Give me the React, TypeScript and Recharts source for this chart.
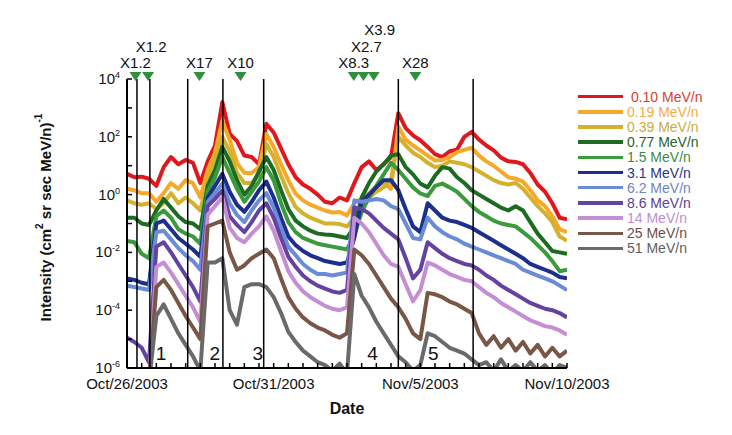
import React from "react";
import {
  LineChart,
  Line,
  XAxis,
  YAxis,
  ReferenceLine,
  ReferenceDot,
  Legend,
  Label,
} from "recharts";

const FONT = '"Liberation Sans", Arial, Helvetica, sans-serif';

// sample times, days after 2003-10-26 00:00 UT (6-hour steps)
const days = [
  0, 0.25, 0.5, 0.75, 1, 1.25, 1.5, 1.75, 2, 2.25, 2.5, 2.75, 3, 3.25, 3.5, 3.75,
  4, 4.25, 4.5, 4.75, 5, 5.25, 5.5, 5.75, 6, 6.25, 6.5, 6.75, 7, 7.25, 7.5, 7.75,
  8, 8.25, 8.5, 8.75, 9, 9.25, 9.5, 9.75, 10, 10.25, 10.5, 10.75, 11, 11.25, 11.5,
  11.75, 12, 12.25, 12.5, 12.75, 13, 13.25, 13.5, 13.75, 14, 14.25, 14.5, 14.75, 15,
];

// log10 intensity per energy channel
const mev010 = [
  0.72, 0.6, 0.62, 0.55, 0.3, 0.95, 1.3, 1.05, 1.2, 1.1, 0.4, 1.15, 1.7, 3.2, 2.1, 1.85,
  1.35, 1.3, 1.05, 2.45, 2.15, 1.6, 1.05, 0.6, 0.35, 0.2, 0.0, -0.25, -0.3, -0.1, -0.2, 0.4,
  0.95, 1.15, 0.85, 1.05, 1.3, 2.82, 2.3, 2.05, 1.88, 1.65, 1.4, 1.3, 1.5, 1.55, 2.0,
  2.17, 1.9, 1.7, 1.53, 1.28, 1.15, 1.13, 1.05, 0.75, 0.35, 0.1, -0.3, -0.8, -0.85,
];
const mev019 = [
  0.2, 0.15, 0.05, 0.05, -0.25, 0.05, 0.4, 0.2, 0.5, 0.4, -0.1, 0.85, 1.45, 2.55, 1.9, 1.1,
  0.75, 0.75, 0.95, 2.1, 1.65, 1.05, 0.5, 0.03, -0.2, -0.35, -0.45, -0.55, -0.62, -0.6, -0.72, -0.3,
  -0.15, 0.05, 0.3, 0.4, 0.2, 2.35, 1.9, 1.7, 1.53, 1.35, 1.18, 1.2, 1.3, 1.47, 1.55,
  1.62, 1.35, 1.15, 1.0, 0.8, 0.6, 0.55, 0.45, 0.15, -0.2, -0.4, -0.75, -1.2, -1.3,
];
const mev039 = [
  -0.2, -0.3, -0.35, -0.3, -0.5, -0.3, 0.05, -0.3, -0.1, -0.3, -0.55, 0.55, 1.25, 2.0, 1.5, 0.75,
  0.4, 0.4, 0.7, 1.75, 1.3, 0.65, 0.05, -0.43, -0.65, -0.8, -0.9, -1.0, -1.0, -1.02, -1.1, -0.8,
  -0.4, -0.1, 0.1, 0.25, 0.5, 2.0, 1.7, 1.45, 1.3, 1.1, 0.95, 1.0, 1.15, 1.1, 1.05,
  0.95, 0.8, 0.65, 0.5, 0.4, 0.35, 0.4, 0.2, -0.1, -0.4, -0.65, -0.95, -1.45, -1.6,
];
const mev077 = [
  -0.8, -0.8, -1.0, -1.05, -0.55, -0.15, -0.45, -0.75, -0.95, -1.0, -1.2, 0.3, 0.85, 1.65, 1.15, 0.5,
  0.0, 0.3, 0.8, 1.3, 0.85, 0.15, -0.5, -0.9, -1.1, -1.25, -1.35, -1.38, -1.4, -1.45, -1.5, -1.1,
  -0.1, 0.4, 0.8, 1.05, 1.35, 1.4, 0.95, 0.7, 0.38, 0.25, 0.65, 0.95, 0.9, 0.6, 0.4,
  0.15, 0.0, -0.15, -0.3, -0.45, -0.55, -0.4, -0.55, -0.95, -1.35, -1.65, -1.95, -2.0, -2.05,
];
const mev15 = [
  -1.6, -1.65, -2.05, -2.2, -0.75, -0.55, -0.8, -1.2, -1.35, -1.45, -1.7, 0.1, 0.6, 1.3, 0.75, 0.2,
  -0.25, 0.1, 0.45, 0.95, 0.5, -0.3, -0.95, -1.3, -1.5, -1.6, -1.7, -1.75, -1.8, -1.85, -1.9, -1.4,
  -0.6, -0.1, 0.3, 0.7, 1.1, 0.85, 0.55, 0.25, 0.04, -0.05, 0.3, 0.38, 0.25, 0.1, -0.15,
  -0.4, -0.6, -0.75, -0.9, -1.0, -1.05, -1.1, -1.3, -1.5, -1.75, -2.0, -2.3, -2.65, -2.6,
];
const mev31 = [
  -2.9, -2.95, -3.05, -3.1, -1.0, -0.9, -1.2, -1.5, -1.7, -1.9, -2.15, -0.1, 0.3, 0.72, 0.1, -0.35,
  -0.6, -0.25, 0.15, 0.45, -0.1, -0.8, -1.45, -1.75, -1.95, -2.1, -2.2, -2.3, -2.35, -2.4, -2.35, -1.5,
  -0.25, 0.0, 0.25, 0.5, 0.5, 0.15, -0.5, -1.1, -1.3, -0.3, -0.55, -0.8, -0.9, -0.95, -1.05,
  -1.15, -1.3, -1.45, -1.6, -1.75, -1.9, -2.05, -2.2, -2.4, -2.5, -2.6, -2.7, -2.85, -2.9,
];
const mev62 = [
  -3.15, -3.2, -3.25, -3.3, -1.3, -1.25, -1.55, -1.85, -2.1, -2.3, -2.6, -0.25, 0.05, 0.38, -0.3, -0.7,
  -0.95, -0.55, -0.2, 0.05, -0.45, -1.15, -1.8, -2.1, -2.4, -2.6, -2.75, -2.75, -2.8, -2.75, -2.7, -0.2,
  -0.25, -0.2, -0.15, -0.2, -0.4, -0.5, -1.0, -1.5, -1.55, -0.8, -1.1, -1.3, -1.45, -1.55, -1.7,
  -1.8, -1.9, -2.0, -2.1, -2.2, -2.3, -2.4, -2.6, -2.7, -2.8, -2.9, -3.0, -3.15, -3.3,
];
const mev86 = [
  -4.95, -5.1, -5.3, -5.8, -1.8, -1.65, -2.0, -2.4, -2.8, -3.2, -3.7, -0.4, -0.15, 0.14, -0.75, -1.05,
  -1.3, -0.95, -0.55, -0.3, -0.8, -1.5, -2.15, -2.5, -2.8, -3.0, -3.15, -3.25, -3.35, -3.4, -3.3, -0.45,
  -0.5, -0.65, -0.9, -1.15, -1.35, -1.55, -2.2, -2.9, -2.6, -1.65, -1.85, -2.05, -2.2, -2.3, -2.4,
  -2.45, -2.6, -2.8, -2.95, -3.15, -3.3, -3.45, -3.6, -3.75, -3.85, -3.95, -4.0, -4.1, -4.25,
];
const mev14 = [
  -6.5, -6.5, -6.5, -6.5, -2.5, -2.35, -2.7, -3.1, -3.5, -3.9, -4.4, -0.7, -0.4, -0.09, -1.15, -1.5,
  -1.65, -1.35, -1.1, -0.75, -1.25, -1.95, -2.65, -3.05, -3.35, -3.55, -3.7, -3.85, -3.95, -4.0, -3.9, -0.8,
  -1.0, -1.3, -1.7, -2.1, -2.4, -2.5, -3.1, -3.7, -3.3, -2.35, -2.45, -2.6, -2.75, -2.85, -2.95,
  -3.0, -3.2, -3.4, -3.55, -3.75, -3.9, -4.05, -4.2, -4.35, -4.45, -4.55, -4.6, -4.7, -4.85,
];
const mev25 = [
  -6.5, -6.5, -6.5, -6.5, -3.2, -2.95, -3.3, -3.75, -4.2, -4.6, -5.0, -1.1, -1.0, -0.9, -2.0, -2.6,
  -2.45, -2.2, -2.05, -1.9, -2.2, -2.9, -3.55, -3.95, -4.25, -4.45, -4.6, -4.7, -4.85, -4.95, -4.8, -1.9,
  -2.1, -2.4, -2.8, -3.2, -3.6, -3.9, -4.3, -4.8, -5.0, -3.4, -3.45, -3.55, -3.7, -3.8, -3.95,
  -4.1, -4.8, -5.2, -4.9, -5.3, -5.0, -5.4, -5.1, -5.5, -5.2, -5.6, -5.3, -5.6, -5.4,
];
const mev51 = [
  -6.5, -6.5, -6.5, -6.5, -4.2, -3.8, -4.3, -4.8, -5.2, -5.6, -6.1, -2.35, -2.35, -2.2, -4.0, -4.5,
  -3.2, -3.1, -3.1, -3.2, -3.55, -4.1, -4.75, -5.1, -5.4, -5.6, -5.8, -5.9, -6.1, -5.85, -6.2, -2.75,
  -3.5, -3.9, -4.4, -4.8, -5.2, -5.6, -5.8, -6.1, -5.9, -4.8, -4.9, -5.1, -5.3, -5.4, -5.5,
  -5.7, -5.9, -5.8, -6.1, -5.7, -6.1, -5.9, -6.1, -5.8, -6.1, -5.9, -6.2, -5.9, -6.0,
];

const energyLabels = [
  " 0.10 MeV/n", "0.19 MeV/n", "0.39 MeV/n", "0.77 MeV/n", "1.5 MeV/n", "3.1 MeV/n",
  "6.2 MeV/n", "8.6 MeV/n", "14 MeV/n", "25 MeV/n", "51 MeV/n",
];

const dateTickDays = [0, 5, 10, 15];
const dateTickLabels = ["Oct/26/2003", "Oct/31/2003", "Nov/5/2003", "Nov/10/2003"];
const decadeTicks = [-6, -5, -4, -3, -2, -1, 0, 1, 2, 3, 4];

// event boundaries and numbers
const eventLineDays = [0.34, 0.78, 2.07, 3.27, 4.66, 9.25, 11.8];
const eventNames = ["1", "2", "3", "4", "5"];
const eventNameDays = [1.16, 2.99, 4.46, 8.37, 10.44];

// X-class flares
const flareNames = ["X1.2", "X1.2", "X17", "X10", "X8.3", "X2.7", "X3.9", "X28"];
const flareDays = [0.29, 0.72, 2.47, 3.87, 7.73, 8.06, 8.41, 9.83];

const series = [
  { key: "e010", values: mev010, color: "#e0181e", text: "#d8402b" },
  { key: "e019", values: mev019, color: "#f6a828", text: "#f2ad4a" },
  { key: "e039", values: mev039, color: "#d4b12c", text: "#c8ad40" },
  { key: "e077", values: mev077, color: "#1d6b23", text: "#2b5e2c" },
  { key: "e15", values: mev15, color: "#3a9a3c", text: "#3d8a44" },
  { key: "e31", values: mev31, color: "#1c2f8f", text: "#2a367f" },
  { key: "e62", values: mev62, color: "#6a8bd6", text: "#6e85c4" },
  { key: "e86", values: mev86, color: "#63439f", text: "#5a4290" },
  { key: "e14", values: mev14, color: "#c48dd4", text: "#bb8fca" },
  { key: "e25", values: mev25, color: "#7a5647", text: "#6b5047" },
  { key: "e51", values: mev51, color: "#6a6a6a", text: "#606060" },
].map((s, i) => ({ ...s, label: energyLabels[i] }));

const rows = days.map((d, i) => {
  const r: any = { d };
  series.forEach((s) => (r[s.key] = s.values[i]));
  return r;
});

const halfDayTicks = Array.from({ length: 31 }, (_, i) => i * 0.5);

// stack labels of flares that are close together
const flareRows: number[] = [];
flareDays.forEach((d, i) => {
  flareRows.push(i > 0 && d - flareDays[i - 1] < 0.5 ? flareRows[i - 1] + 1 : 0);
});

const BottomTick = (props: any) => {
  const { x, y, payload } = props;
  const idx = dateTickDays.indexOf(payload.value);
  return (
    <g>
      <line x1={x} x2={x} y1={y} y2={y - 5} stroke="#000" strokeWidth={1.5} />
      {idx >= 0 && (
        <text x={x} y={y + 21} textAnchor="middle" fontSize={15} fontFamily={FONT} fill="#111">
          {dateTickLabels[idx]}
        </text>
      )}
    </g>
  );
};

const TopTick = (props: any) => {
  const { x, y } = props;
  return <line x1={x} x2={x} y1={y} y2={y + 5} stroke="#000" strokeWidth={1.5} />;
};

const LeftTick = (props: any) => {
  const { x, y, payload } = props;
  const v = payload.value;
  return (
    <g>
      <line x1={x} x2={x + 5} y1={y} y2={y} stroke="#000" strokeWidth={1.5} />
      {v % 2 === 0 && (
        <text x={x - 7} y={y + 5} textAnchor="end" fontSize={15} fontFamily={FONT} fill="#111">
          <tspan>10</tspan>
          <tspan dy={-6} fontSize={9}>
            {String(v)}
          </tspan>
        </text>
      )}
    </g>
  );
};

const RightTick = (props: any) => {
  const { x, y } = props;
  return <line x1={x} x2={x - 5} y1={y} y2={y} stroke="#000" strokeWidth={1.5} />;
};

const YTitle = (props: any) => {
  const { viewBox } = props;
  const cx = viewBox.x - 22;
  const cy = viewBox.y + viewBox.height / 2 - 6;
  return (
    <text
      x={cx}
      y={cy}
      transform={`rotate(-90, ${cx}, ${cy})`}
      textAnchor="middle"
      dominantBaseline="central"
      fontSize={15}
      fontWeight="bold"
      fontFamily={FONT}
      fill="#111"
    >
      Intensity (cm
      <tspan dy={-6} fontSize={10}>2</tspan>
      <tspan dy={6}> sr sec MeV/n)</tspan>
      <tspan dy={-7} fontSize={10}>-1</tspan>
    </text>
  );
};

const XTitle = (props: any) => {
  const { viewBox } = props;
  return (
    <text
      x={viewBox.x + viewBox.width / 2}
      y={viewBox.y + 46}
      textAnchor="middle"
      fontSize={16}
      fontWeight="bold"
      fontFamily={FONT}
      fill="#111"
    >
      Date
    </text>
  );
};

const FlareMark = ({ cx, cy, name, row }: any) => (
  <g>
    <polygon
      points={`${cx - 6},${cy - 7} ${cx + 6},${cy - 7} ${cx},${cy + 2}`}
      fill="#2f8f3a"
    />
    <text
      x={cx + row * 3}
      y={cy - 11 - row * 16.5}
      textAnchor="middle"
      fontSize={15}
      fontFamily={FONT}
      fill="#111"
    >
      {name}
    </text>
  </g>
);

const EventNumber = ({ cx, cy, name }: any) => (
  <text x={cx} y={cy} dy="0.36em" textAnchor="middle" fontSize={19} fontFamily={FONT} fill="#111">
    {name}
  </text>
);

const LegendBox = () => (
  <div style={{ fontFamily: FONT, fontSize: 14 }}>
    {series.map((s) => (
      <div key={s.key} style={{ display: "flex", alignItems: "center", height: 15.2 }}>
        <span
          style={{ display: "inline-block", width: 45, height: 3.5, background: s.color, marginRight: 4 }}
        />
        <span style={{ color: s.text, whiteSpace: "pre" }}>{s.label}</span>
      </div>
    ))}
  </div>
);

export default function App() {
  return (
    <div style={{ position: "absolute", left: 0, top: 0, width: 732, height: 435, background: "#fff" }}>
      <LineChart
        width={732}
        height={435}
        data={rows}
        margin={{ top: 79, right: 165, bottom: 37, left: 67 }}
        style={{ fontFamily: FONT }}
      >
        <XAxis
          dataKey="d"
          type="number"
          domain={[0, 15]}
          ticks={halfDayTicks}
          interval={0}
          allowDataOverflow
          height={30}
          tickSize={0}
          tickMargin={0}
          tickLine={false}
          axisLine={{ stroke: "#000", strokeWidth: 2 }}
          tick={<BottomTick />}
        >
          <Label content={<XTitle />} />
        </XAxis>
        <XAxis
          xAxisId="top"
          orientation="top"
          dataKey="d"
          type="number"
          domain={[0, 15]}
          ticks={halfDayTicks}
          interval={0}
          allowDataOverflow
          height={0}
          tickSize={0}
          tickMargin={0}
          tickLine={false}
          axisLine={{ stroke: "#000", strokeWidth: 2 }}
          tick={<TopTick />}
        />
        <YAxis
          type="number"
          domain={[-6, 4]}
          ticks={decadeTicks}
          interval={0}
          allowDataOverflow
          width={60}
          tickSize={0}
          tickMargin={0}
          tickLine={false}
          axisLine={{ stroke: "#000", strokeWidth: 2 }}
          tick={<LeftTick />}
        >
          <Label content={<YTitle />} />
        </YAxis>
        <YAxis
          yAxisId="r"
          orientation="right"
          type="number"
          domain={[-6, 4]}
          ticks={decadeTicks}
          interval={0}
          allowDataOverflow
          width={0}
          tickSize={0}
          tickMargin={0}
          tickLine={false}
          axisLine={{ stroke: "#000", strokeWidth: 2 }}
          tick={<RightTick />}
        />
        {series.map((s) => (
          <Line
            key={s.key}
            dataKey={s.key}
            type="linear"
            stroke={s.color}
            strokeWidth={4}
            strokeLinejoin="round"
            dot={false}
            activeDot={false}
            isAnimationActive={false}
          />
        ))}
        {eventLineDays.map((d) => (
          <ReferenceLine key={d} x={d} stroke="#000" strokeWidth={1.5} />
        ))}
        {eventNames.map((n, i) => (
          <ReferenceDot
            key={n}
            x={eventNameDays[i]}
            y={-5.5}
            r={0}
            shape={(p: any) => <EventNumber {...p} name={n} />}
          />
        ))}
        {flareNames.map((n, i) => (
          <ReferenceDot
            key={i}
            x={flareDays[i]}
            y={4}
            r={0}
            shape={(p: any) => <FlareMark {...p} name={n} row={flareRows[i]} />}
          />
        ))}
        <Legend
          layout="vertical"
          align="center"
          verticalAlign="middle"
          wrapperStyle={{ left: 578, top: 89, width: 150 }}
          content={<LegendBox />}
        />
      </LineChart>
    </div>
  );
}
